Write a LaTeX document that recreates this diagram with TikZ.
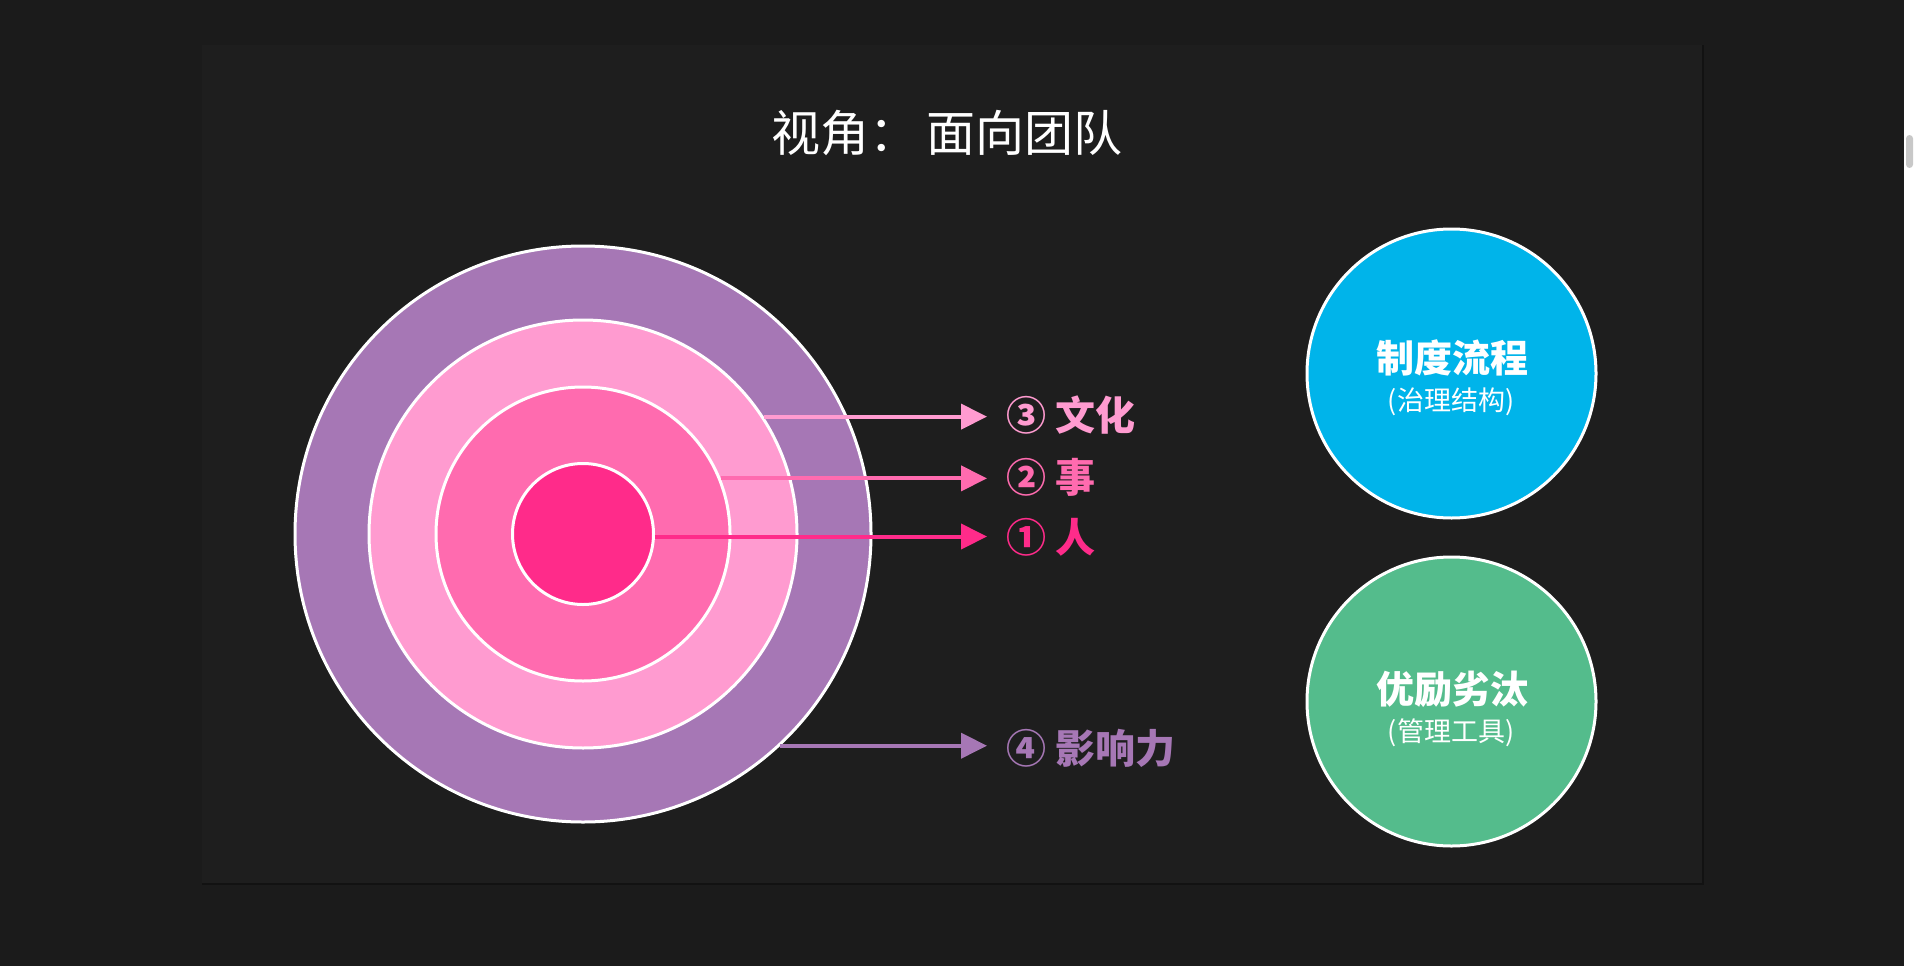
\documentclass[tikz,border=0pt]{standalone}
\usepackage{fontspec}
\setmainfont{Noto Sans CJK SC}
\usetikzlibrary{arrows.meta,calc}
\definecolor{bgout}{HTML}{1B1B1B}
\definecolor{bgpanel}{HTML}{1E1E1E}
\definecolor{ringD}{HTML}{A677B5}
\definecolor{ringC}{HTML}{FF9BD0}
\definecolor{ringB}{HTML}{FF6BAF}
\definecolor{ringA}{HTML}{FF2B8A}
\definecolor{bluec}{HTML}{00B4EA}
\definecolor{greenc}{HTML}{54BC8C}
\definecolor{scrollc}{HTML}{C8C8C8}
\tikzset{
  ring/.style={circle, draw=white, line width=3pt, inner sep=0pt, minimum size=#1},
  conn/.style={line width=4pt, -{Triangle[length=26pt,width=25pt]}},
  lab/.style={anchor=west, inner sep=0pt, font=\bfseries\fontsize{40}{45}\selectfont},
  bigtxt/.style={text=white, inner sep=0pt, font=\bfseries\fontsize{38}{44}\selectfont},
  smalltxt/.style={text=white, inner sep=0pt, font=\fontsize{27}{32}\selectfont},
}
\begin{document}
\begin{tikzpicture}[x=1pt,y=-1pt]
\useasboundingbox (0,0) rectangle (1916,966);
\fill[bgout] (0,0) rectangle (1916,966);
\fill[white] (1904,0) rectangle (1916,966);
\fill[scrollc, rounded corners=3.5pt] (1906,135) rectangle (1913,168);
\fill[black!35!bgout] (202,45) rectangle (1704,885);
\fill[bgpanel] (202,45) rectangle (1702,883);

\node[text=white, font=\fontsize{49}{56}\selectfont] (title) at (947,133) {视角：\,面向团队};

% concentric circles
\node[ring=576pt, fill=ringD] (c4) at (583,534) {};
\node[ring=428pt, fill=ringC] (c3) at (583,534) {};
\node[ring=294pt, fill=ringB] (c2) at (583,534) {};
\node[ring=141pt, fill=ringA] (c1) at (583,534) {};

% labels
\node[lab, text=ringC] (l3) at (1006,415) {③ 文化};
\node[lab, text=ringB] (l2) at (1006,477) {② 事};
\node[lab, text=ringA] (l1) at (1006,537) {① 人};
\node[lab, text=ringD] (l4) at (1006,748) {④ 影响力};

% connectors
\draw[conn, ringC] (c3.33.4) -- ($(c3.33.4 -| l3.west)+(-19,0)$);
\draw[conn, ringB] (c2.22.8) -- ($(c2.22.8 -| l2.west)+(-19,0)$);
\draw[conn, ringA] (c1.-2.5) -- ($(c1.-2.5 -| l1.west)+(-19,0)$);
\draw[conn, ringD] (c4.-47.6) -- ($(c4.-47.6 -| l4.west)+(-19,0)$);

% right circles
\node[ring=289pt, fill=bluec] (blue) at (1451.5,373.5) {};
\node[bigtxt] (b1) at (1452,358) {制度流程};
\node[smalltxt] (b2) at (1451,402) {(治理结构)};

\node[ring=289pt, fill=greenc] (green) at (1451.5,701.5) {};
\node[bigtxt] (g1) at (1452,689) {优励劣汰};
\node[smalltxt] (g2) at (1451,733) {(管理工具)};
\end{tikzpicture}
\end{document}
